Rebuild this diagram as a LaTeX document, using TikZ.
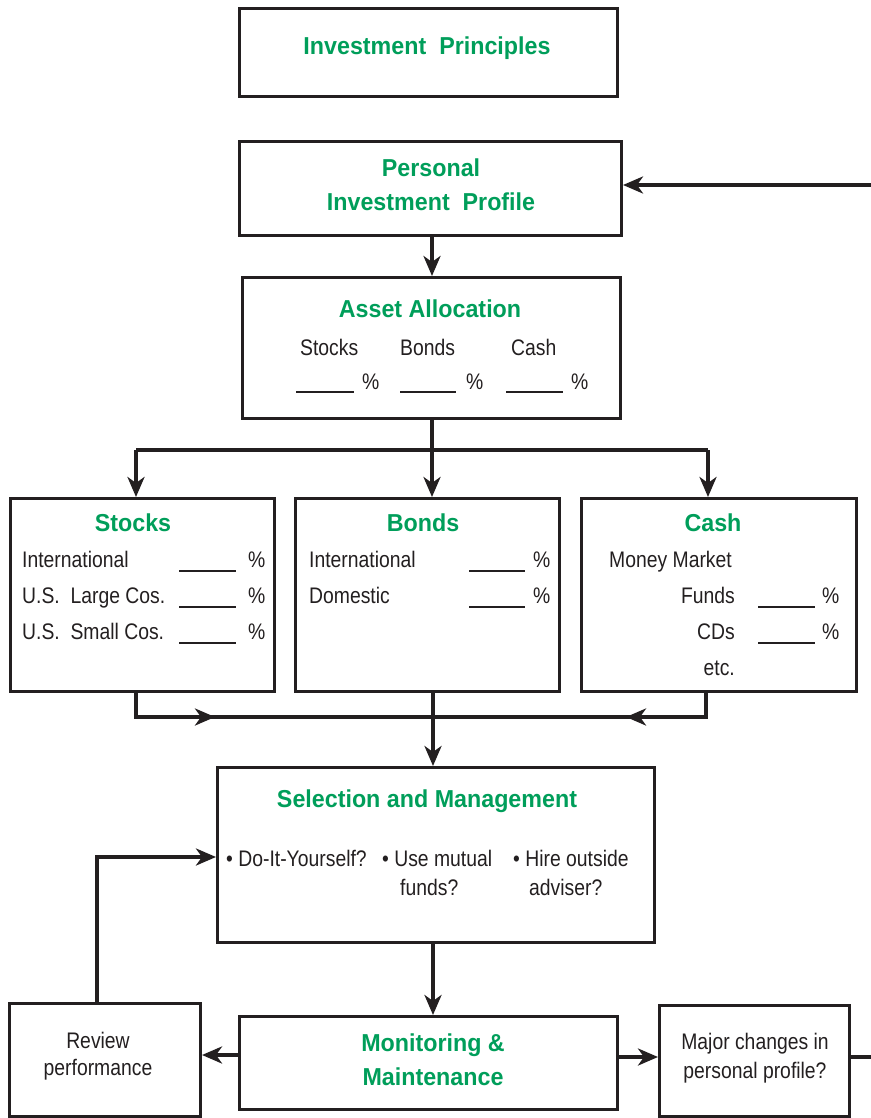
\documentclass[tikz,border=0pt]{standalone}
\usepackage{fontspec}
\setmainfont{Liberation Sans}
\newfontfamily\bodyfont[FakeStretch=0.86]{Liberation Sans}
\newfontfamily\titlefont[FakeStretch=0.95]{Liberation Sans Bold}
\usetikzlibrary{arrows.meta}
\definecolor{tgreen}{RGB}{0,158,90}
\definecolor{ink}{RGB}{35,31,32}
\begin{document}
\begin{tikzpicture}[x=1pt,y=-1pt,
  box/.style={draw=ink, line width=3pt, inner sep=0pt, rectangle, anchor=north west},
  ttl/.style={font=\titlefont\fontsize{24.5}{27}\selectfont, text=tgreen, inner sep=0pt, anchor=base},
  txt/.style={font=\bodyfont\fontsize{22.5}{26}\selectfont, text=ink, inner sep=0pt, anchor=base west},
  txtc/.style={txt, anchor=base},
  txtr/.style={txt, anchor=base east},
  wire/.style={draw=ink, line width=3.5pt},
  arr/.style={wire, -{Stealth[length=20pt,width=17pt,inset=6pt]}},
  blank/.style={draw=ink, line width=1.3pt}
]
\useasboundingbox (0,0) rectangle (870,1118);

% boxes
\node[box, minimum width=378pt, minimum height=88pt] (prin) at (238,7) {};
\node[box, minimum width=382pt, minimum height=94pt] (prof) at (238,140) {};
\node[box, minimum width=378pt, minimum height=141pt] (alloc) at (241,276) {};
\node[box, minimum width=264pt, minimum height=193pt] (stocks) at (9,497) {};
\node[box, minimum width=264pt, minimum height=193pt] (bonds) at (294,497) {};
\node[box, minimum width=275pt, minimum height=193pt] (cash) at (580,497) {};
\node[box, minimum width=437pt, minimum height=175pt] (sel) at (216,766) {};
\node[box, minimum width=378pt, minimum height=93pt] (mon) at (238,1015) {};
\node[box, minimum width=191pt, minimum height=113pt] (rev) at (8,1002) {};
\node[box, minimum width=190pt, minimum height=111pt] (maj) at (658,1004) {};

% texts
\node[ttl] (t1) at (427,55) {Investment\ \ Principles};
\node[ttl] (t2a) at (431,176) {Personal};
\node[ttl] (t2b) at (431,211) {Investment\ \ Profile};
\node[ttl] (t3) at (430,317) {Asset Allocation};
\node[txt] (a1) at (300,355) {Stocks};
\node[txt] (a2) at (400,355) {Bonds};
\node[txt] (a3) at (511,355) {Cash};
\node[txt] (a4) at (362,389) {\%};
\node[txt] (a5) at (466,389) {\%};
\node[txt] (a6) at (571,389) {\%};
\draw[blank] (296,392) -- (354,392);
\draw[blank] (400,392) -- (456,392);
\draw[blank] (506,392) -- (563,392);

\node[ttl] (st) at (133,531) {Stocks};
\node[txt] (s1) at (22,567) {International};
\node[txt] (s2) at (22,603) {U.S.\ \ Large Cos.};
\node[txt] (s3) at (22,639) {U.S.\ \ Small Cos.};
\foreach \yy in {567,603,639}{
  \node[txt] at (248,\yy) {\%};
  \draw[blank] (179,\yy+4) -- (236,\yy+4);
}

\node[ttl] (bt) at (423,531) {Bonds};
\node[txt] (b1) at (309,567) {International};
\node[txt] (b2) at (309,603) {Domestic};
\foreach \yy in {567,603}{
  \node[txt] at (533,\yy) {\%};
  \draw[blank] (469,\yy+4) -- (525,\yy+4);
}

\node[ttl] (ct) at (713,531) {Cash};
\node[txt] (c1) at (609,567) {Money Market};
\node[txtr] (c2) at (735,603) {Funds};
\node[txtr] (c3) at (735,639) {CDs};
\node[txtr] (c4) at (735,675) {etc.};
\foreach \yy in {603,639}{
  \node[txt] at (822,\yy) {\%};
  \draw[blank] (758,\yy+4) -- (815,\yy+4);
}

\node[ttl] (selt) at (427,807) {Selection and Management};
\node[txt] (o1) at (226,866) {\textbullet\ Do-It-Yourself?};
\node[txt] (o2) at (382,866) {\textbullet\ Use mutual};
\node[txt] (o2b) at (400,895) {funds?};
\node[txt] (o3) at (513,866) {\textbullet\ Hire outside};
\node[txt] (o3b) at (529,895) {adviser?};

\node[ttl] (m1) at (433,1051) {Monitoring \&};
\node[ttl] (m2) at (433,1085) {Maintenance};
\node[txtc] (r1) at (98,1048) {Review};
\node[txtc] (r2) at (98,1075) {performance};
\node[txtc] (j1) at (755,1049) {Major changes in};
\node[txtc] (j2) at (755,1078) {personal profile?};

% connectors
\draw[arr] (prof.south -| 432,0) -- (432,276);
\coordinate (split) at (432,450);
\coordinate (sx) at (136,450);
\coordinate (cx) at (708,450);
\draw[wire] (alloc.south -| split) -- (split);
\draw[wire] (sx) -- (cx);
\draw[arr] (sx) -- (sx |- stocks.north);
\draw[arr] (split) -- (split |- bonds.north);
\draw[arr] (cx) -- (cx |- cash.north);

\coordinate (sb) at (136,717);
\coordinate (cb) at (706,717);
\coordinate (mid) at (433,717);
\draw[wire] (sb |- stocks.south) -- (sb) -- (cb) -- (cb |- cash.south);
\draw[arr] (sb) -- (215,717);
\draw[arr] (cb) -- (626,717);
\draw[arr] (mid |- bonds.south) -- (mid |- sel.north);

\draw[arr] (sel.south -| 433,0) -- (433,1015);
\draw[arr] (mon.west |- 0,1055) -- (rev.east |- 0,1055);
\draw[arr] (mon.east |- 0,1057) -- (maj.west |- 0,1057);
\coordinate (rt) at (97,857);
\draw[arr] (rev.north -| rt) -- (rt) -- (sel.west |- rt);

\coordinate (re1) at (872,1057);
\coordinate (re2) at (872,185);
\draw[wire] (maj.east |- re1) -- (re1);
\draw[arr] (re2) -- (prof.east |- re2);
\end{tikzpicture}
\end{document}
